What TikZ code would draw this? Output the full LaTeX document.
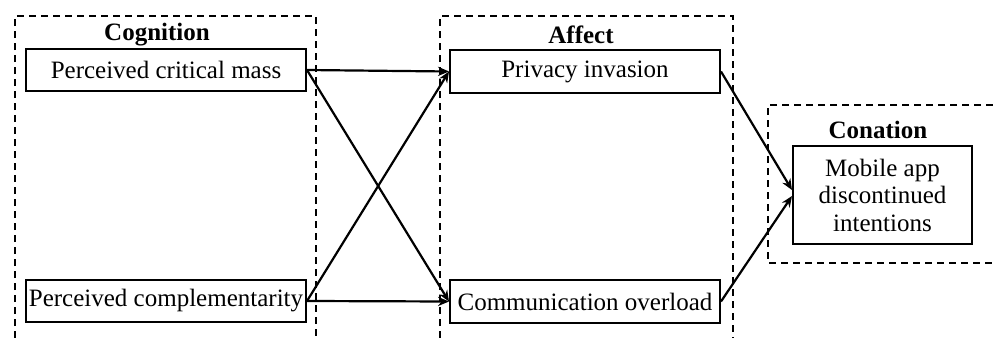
\documentclass[tikz,border=0pt]{standalone}
\usepackage{fontspec}
\setmainfont{Liberation Serif}
\usepackage{tikz}
\usetikzlibrary{arrows.meta,positioning}

\begin{document}
\begin{tikzpicture}[x=0.5pt, y=-0.5pt,
    concept/.style={draw, line width=1pt, inner sep=0pt, font=\fontsize{12.5}{13.75}\selectfont},
    stage/.style={line width=0.75pt, dash pattern=on 3.5pt off 2.5pt},
    title/.style={font=\fontsize{12.5}{13.75}\selectfont\bfseries},
    link/.style={-{Stealth[length=5.5pt,width=4.6pt]}, line width=1.1pt}]
    \useasboundingbox (0,0) rectangle (993,338);

    % Stage frames
    \draw[stage] (15,338) -- (15,16) -- (316,16) -- (316,338);
    \draw[stage] (440,338) -- (440,16) -- (733,16) -- (733,338);
    \draw[stage] (993,105) -- (768,105) -- (768,263) -- (993,263);
    \node[title] (cog) at (157,35) {Cognition};
    \node[title] (aff) at (581,35) {Affect};
    \node[title] (con) at (878,130) {Conation};

    % Cognition
    \node[concept, minimum width=140pt, minimum height=21pt] (mass) at (166,70) {Perceived critical mass};
    \node[concept, minimum width=140pt, minimum height=21pt] (compl) at (166,301) {Perceived complementarity};

    % Affect
    \node[concept, minimum width=135pt, minimum height=21.5pt] (priv) at (585,71.5) {Privacy invasion};
    \node[concept, minimum width=135pt, minimum height=21.5pt] (over) at (585,301.5) {Communication overload};

    % Conation
    \node[concept, minimum width=89.5pt, minimum height=49pt, align=center] (disc) at (882.5,195)
        {Mobile app\\discontinued\\intentions};

    % Paths
    \draw[link] (mass.east) -- (priv.west);
    \draw[link] (mass.east) -- (over.west);
    \draw[link] (compl.east) -- (priv.west);
    \draw[link] (compl.east) -- (over.west);
    \draw[link] (priv.east) -- ([yshift=2.5pt]disc.west);
    \draw[link] (over.east) -- ([yshift=-0.5pt]disc.west);
\end{tikzpicture}
\end{document}
